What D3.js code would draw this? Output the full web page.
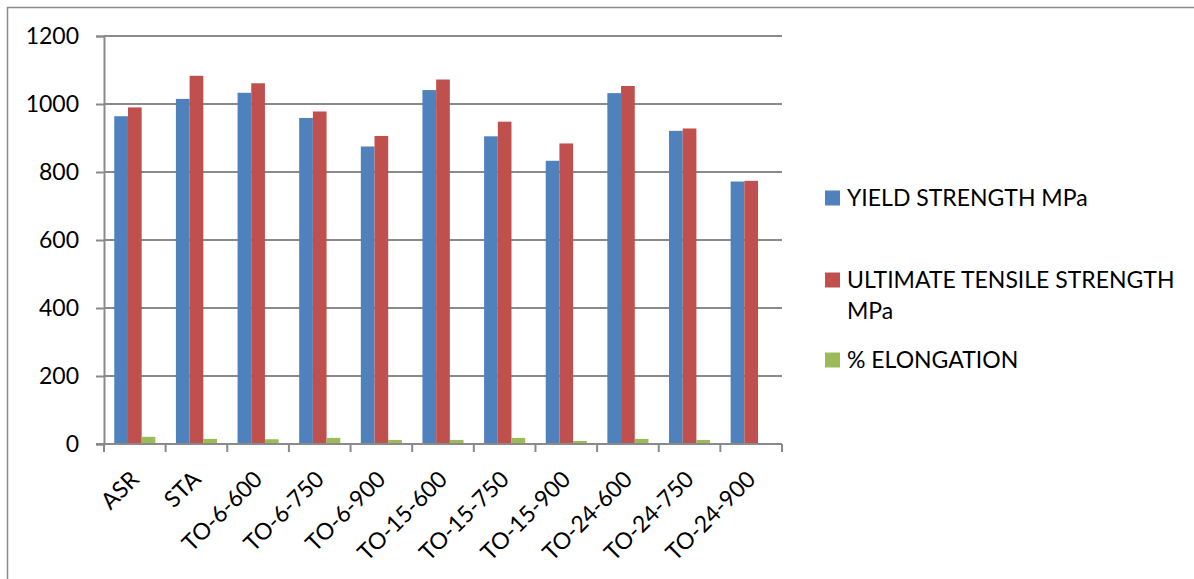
<!DOCTYPE html>
<html>
<head>
<meta charset="utf-8">
<script src="https://cdn.jsdelivr.net/npm/d3@7"></script>
<style>
  html, body { margin: 0; padding: 0; background: #fff; }
  svg { display: block; }
  text { font-family: Lato, "Open Sans", sans-serif; fill: #000; }
</style>
</head>
<body>
<svg id="chart" width="1194" height="579"></svg>
<script>
// Heat-treatment conditions
const categories = ["ASR", "STA", "TO-6-600", "TO-6-750", "TO-6-900", "TO-15-600",
  "TO-15-750", "TO-15-900", "TO-24-600", "TO-24-750", "TO-24-900"];

// Mechanical properties per condition
const yieldStrength = [964, 1015, 1033, 959, 875, 1041, 905, 833, 1032, 921, 772];
const ultimateStrength = [990, 1083, 1061, 978, 906, 1072, 948, 884, 1053, 928, 774];
const elongation = [21, 15, 14, 18, 12, 12, 18, 9, 15, 12, 3];

const seriesNames = ["YIELD STRENGTH MPa", "ULTIMATE TENSILE STRENGTH MPa", "% ELONGATION"];
const seriesColors = ["#4F81BD", "#C0504D", "#9BBB59"];
const yTicks = [0, 200, 400, 600, 800, 1000, 1200];

const seriesValues = [yieldStrength, ultimateStrength, elongation];

const svg = d3.select("#chart");
const gridColor = "#8a8a8a";

// outer chart frame
svg.append("rect")
  .attr("x", 7.5).attr("y", 7.5)
  .attr("width", 1400).attr("height", 800)
  .attr("fill", "none")
  .attr("stroke", gridColor)
  .attr("stroke-width", 1.5);

const plot = { left: 104, right: 782, top: 36, bottom: 444 };

const x = d3.scaleBand().domain(categories).range([plot.left, plot.right]);
const bw = x.bandwidth();
const gap = bw * 0.75 / 4.5;
const xs = d3.scaleBand().domain(d3.range(seriesNames.length)).range([gap, bw - gap]);
const y = d3.scaleLinear().domain([0, 1200]).range([plot.bottom, plot.top]);

// horizontal gridlines
svg.append("g")
  .selectAll("line")
  .data(yTicks.filter(t => t > 0))
  .join("line")
  .attr("x1", plot.left).attr("x2", plot.right)
  .attr("y1", d => y(d)).attr("y2", d => y(d))
  .attr("stroke", gridColor)
  .attr("stroke-width", 2);

// bars
const groups = svg.append("g")
  .selectAll("g")
  .data(categories)
  .join("g")
  .attr("transform", d => `translate(${x(d)},0)`);

groups.selectAll("rect")
  .data((c, i) => seriesValues.map((vals, s) => ({ s, v: vals[i] })))
  .join("rect")
  .attr("x", d => xs(d.s))
  .attr("width", xs.bandwidth())
  .attr("y", d => y(d.v))
  .attr("height", d => y(0) - y(d.v))
  .attr("fill", d => seriesColors[d.s]);

// y axis
const yAxis = d3.axisLeft(y).tickValues(yTicks).tickSize(8).tickPadding(17).tickFormat(d3.format("d"));
const gy = svg.append("g").attr("transform", `translate(${plot.left},0)`).call(yAxis);
gy.select(".domain").attr("stroke", gridColor).attr("stroke-width", 2);
gy.selectAll(".tick line").attr("stroke", gridColor).attr("stroke-width", 2);
gy.selectAll(".tick text")
  .style("font-family", "Lato, sans-serif")
  .style("font-size", "23px")
  .attr("fill", "#000");

// x axis line and category boundary ticks
svg.append("line")
  .attr("x1", plot.left - 8).attr("x2", plot.right)
  .attr("y1", plot.bottom).attr("y2", plot.bottom)
  .attr("stroke", gridColor).attr("stroke-width", 2);

const boundaries = categories.map(c => x(c)).concat([plot.right]);
svg.append("g")
  .selectAll("line")
  .data(boundaries)
  .join("line")
  .attr("x1", d => d).attr("x2", d => d)
  .attr("y1", plot.bottom).attr("y2", plot.bottom + 8)
  .attr("stroke", gridColor).attr("stroke-width", 2);

// rotated category labels
svg.append("g")
  .selectAll("text")
  .data(categories)
  .join("text")
  .attr("transform", d => `translate(${x(d) + bw / 2},${plot.bottom + 31}) rotate(-45)`)
  .attr("text-anchor", "end")
  .attr("dy", "0.35em")
  .style("font-size", "23px")
  .text(d => d);

// legend
const legendItems = [
  { lines: ["YIELD STRENGTH MPa"], cy: 198 },
  { lines: ["ULTIMATE TENSILE STRENGTH", "MPa"], cy: 280 },
  { lines: ["% ELONGATION"], cy: 360 }
];
const legend = svg.append("g");
legendItems.forEach((item, i) => {
  legend.append("rect")
    .attr("x", 825).attr("y", item.cy - 7.5)
    .attr("width", 15).attr("height", 15)
    .attr("fill", seriesColors[i]);
  const t = legend.append("text")
    .attr("x", 847).attr("y", item.cy + 8)
    .style("font-size", "23px");
  item.lines.forEach((ln, k) => {
    t.append("tspan").attr("x", 847).attr("dy", k === 0 ? 0 : 31).text(ln);
  });
});
</script>
</body>
</html>
